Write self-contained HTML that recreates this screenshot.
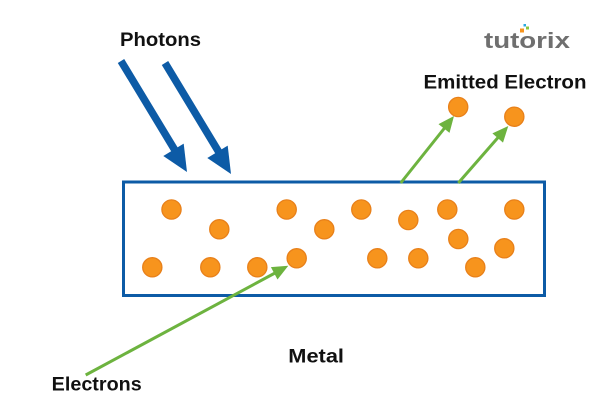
<!DOCTYPE html>
<html>
<head>
<meta charset="utf-8">
<style>
  html,body{margin:0;padding:0;background:#fff;}
  svg{display:block;}
  text{font-family:"Liberation Sans",Arial,sans-serif;font-weight:bold;fill:#111;}
</style>
</head>
<body>
<svg width="600" height="405" viewBox="0 0 600 405" xmlns="http://www.w3.org/2000/svg">
  <rect width="600" height="405" fill="#fff"/>

  <!-- Labels -->
  <text x="120" y="46" font-size="19.5" textLength="81" lengthAdjust="spacingAndGlyphs">Photons</text>
  <text x="423.5" y="88.3" font-size="19.5" textLength="163" lengthAdjust="spacingAndGlyphs">Emitted Electron</text>
  <text x="51.7" y="390.7" font-size="19.5" textLength="90" lengthAdjust="spacingAndGlyphs">Electrons</text>
  <text x="288.3" y="362.3" font-size="19.5" textLength="55.7" lengthAdjust="spacingAndGlyphs">Metal</text>

  <!-- tutorix logo -->
  <text x="484" y="48" font-size="22" style="fill:#6f6f6f" textLength="86" lengthAdjust="spacingAndGlyphs">tutorix</text>
  <rect x="520" y="28.5" width="4" height="4" fill="#f7941d"/>
  <rect x="526" y="26.5" width="3" height="3" fill="#8cc63f"/>
  <rect x="523.5" y="24" width="2.5" height="2.5" fill="#29a8e0"/>

  <!-- Metal rectangle -->
  <rect x="123.5" y="182" width="421" height="113.5" fill="none" stroke="#0d5ba6" stroke-width="3"/>

  <!-- Photon arrows -->
  <g fill="#0d5ba6" stroke="none">
    <line x1="121" y1="61" x2="176" y2="152" stroke="#0d5ba6" stroke-width="7.5"/>
    <polygon points="187,172 183.7,143.6 163.3,156"/>
    <line x1="165" y1="63" x2="220" y2="154" stroke="#0d5ba6" stroke-width="7.5"/>
    <polygon points="231,174 227.7,145.6 207.3,158"/>
  </g>

  <!-- Electrons inside -->
  <g fill="#f7941d" stroke="#e8801a" stroke-width="1.3">
    <circle cx="171.5" cy="209.5" r="9.6"/>
    <circle cx="219.3" cy="229.3" r="9.6"/>
    <circle cx="286.7" cy="209.5" r="9.6"/>
    <circle cx="324.3" cy="229.3" r="9.6"/>
    <circle cx="152.3" cy="267.3" r="9.6"/>
    <circle cx="210.3" cy="267.3" r="9.6"/>
    <circle cx="257.3" cy="267.3" r="9.6"/>
    <circle cx="296.7" cy="258.3" r="9.6"/>
    <circle cx="361.3" cy="209.5" r="9.6"/>
    <circle cx="408.3" cy="220" r="9.6"/>
    <circle cx="447.3" cy="209.5" r="9.6"/>
    <circle cx="514.3" cy="209.5" r="9.6"/>
    <circle cx="458.3" cy="239" r="9.6"/>
    <circle cx="504.3" cy="248.3" r="9.6"/>
    <circle cx="377.3" cy="258.3" r="9.6"/>
    <circle cx="418.3" cy="258.3" r="9.6"/>
    <circle cx="475.3" cy="267.3" r="9.6"/>
    <!-- emitted -->
    <circle cx="458.2" cy="107" r="9.6"/>
    <circle cx="514.3" cy="116.7" r="9.6"/>
  </g>

  <!-- Green arrows -->
  <g stroke="#6db33f" stroke-width="3" fill="#6db33f">
    <line x1="400.7" y1="183" x2="445" y2="127.5"/>
    <polygon stroke="none" points="454,116 449.5,132.9 438.5,124.1"/>
    <line x1="458.3" y1="183" x2="498.5" y2="137"/>
    <polygon stroke="none" points="508.3,126 503,142.6 492.4,133.4"/>
    <line x1="85.7" y1="375" x2="275" y2="273"/>
    <polygon stroke="none" points="288.3,265.7 277.5,279.5 270.9,267.1"/>
  </g>
</svg>
</body>
</html>
